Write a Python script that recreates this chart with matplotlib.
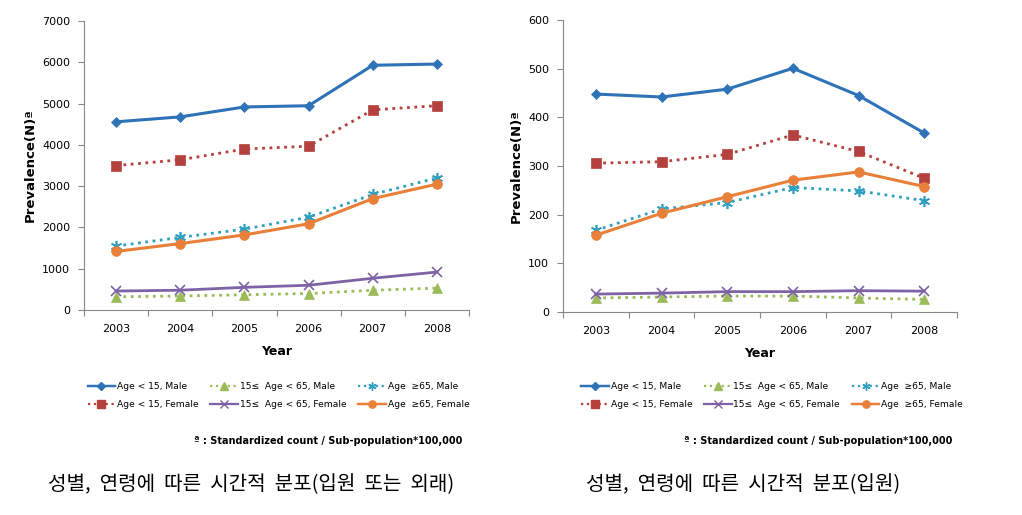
import matplotlib.pyplot as plt
from matplotlib.lines import Line2D

plt.rcParams['font.family'] = ['DejaVu Sans', 'Noto Sans CJK KR']

years = ['2003', '2004', '2005', '2006', '2007', '2008']

# left: inpatient or outpatient
left_m15 = [4560, 4680, 4920, 4950, 5930, 5960]
left_f15 = [3500, 3640, 3900, 3970, 4850, 4950]
left_m65 = [1550, 1760, 1960, 2250, 2800, 3200]
left_f65 = [1420, 1610, 1820, 2090, 2700, 3050]
left_fmid = [460, 480, 550, 600, 770, 920]
left_mmid = [320, 340, 370, 400, 480, 530]

# right: inpatient
right_m15 = [448, 442, 458, 501, 445, 368]
right_f15 = [306, 309, 324, 364, 330, 275]
right_m65 = [168, 212, 225, 256, 249, 229]
right_f65 = [158, 203, 237, 271, 288, 258]
right_fmid = [37, 39, 42, 42, 44, 43]
right_mmid = [29, 31, 33, 33, 29, 26]

labels = ['Age < 15, Male', '15\u2264  Age < 65, Male', 'Age  \u226565, Male',
          'Age < 15, Female', '15\u2264  Age < 65, Female', 'Age  \u226565, Female']

# color, linestyle, marker, markersize, linewidth
styles = [
    ('#2E72B8', '-', 'D', 5, 2.2),
    ('#9BBB59', ':', '^', 7, 2.0),
    ('#31A0C0', ':', (6, 2, 0), 8, 2.0),
    ('#B5413F', ':', 's', 7, 2.0),
    ('#7E62A6', '-', 'x', 7, 2.0),
    ('#E8803A', '-', 'o', 7, 2.2),
]

fig = plt.figure(figsize=(10.22, 5.15), dpi=100)
ax1 = fig.add_axes([0.0822, 0.398, 0.3767, 0.561])
ax2 = fig.add_axes([0.5509, 0.394, 0.3855, 0.567])

x = range(len(years))

def draw(ax, series, ymax, step):
    for i in range(6):
        c, ls, mk, ms, lw = styles[i]
        ax.plot(x, series[i], color=c, linestyle=ls, marker=mk, markersize=ms,
                linewidth=lw, markeredgewidth=1.2 if mk in ('x', (6, 2, 0)) else 0.5,
                markeredgecolor=c)
    ax.set_xlim(-0.5, 5.5)
    ax.set_ylim(0, ymax)
    ax.set_yticks(range(0, ymax + 1, step))
    ax.set_xticks([i - 0.5 for i in range(7)])
    ax.set_xticklabels([])
    ax.set_xticks(list(x), minor=True)
    ax.set_xticklabels(years, minor=True)
    ax.tick_params(axis='x', which='minor', length=0, pad=10, labelsize=8)
    ax.tick_params(axis='x', which='major', length=4, color='#888888')
    ax.tick_params(axis='y', length=4, color='#888888', labelsize=8, pad=6)
    for s in ('top', 'right'):
        ax.spines[s].set_visible(False)
    for s in ('left', 'bottom'):
        ax.spines[s].set_color('#888888')
    ax.set_ylabel('Prevalence(N)\u00aa', fontsize=9.5, fontweight='bold', labelpad=4)
    ax.set_xlabel('Year', fontsize=9, fontweight='bold', labelpad=8)

draw(ax1, [left_m15, left_mmid, left_m65, left_f15, left_fmid, left_f65], 7000, 1000)
draw(ax2, [right_m15, right_mmid, right_m65, right_f15, right_fmid, right_f65], 600, 100)

handles = []
for c, ls, mk, ms, lw in styles:
    handles.append(Line2D([], [], color=c, linestyle=ls, marker=mk,
                          markersize=ms * 0.75, linewidth=lw * 0.8, markeredgecolor=c))
# legend fills columns first, so interleave male/female
order = [0, 3, 1, 4, 2, 5]
h = [handles[i] for i in order]
lab = [labels[i] for i in order]

for cx in (0.2725, 0.7555):
    fig.legend(h, lab, loc='center', bbox_to_anchor=(cx, 0.232), ncol=3,
               frameon=False, fontsize=6.6, handlelength=3.0, columnspacing=1.3,
               handletextpad=0.2, labelspacing=1.0)

fig.text(0.452, 0.138, '\u00aa : Standardized count / Sub-population*100,000',
         ha='right', fontsize=7, fontweight='bold')
fig.text(0.932, 0.138, '\u00aa : Standardized count / Sub-population*100,000',
         ha='right', fontsize=7, fontweight='bold')

fig.text(0.047, 0.048, '성별,  연령에  따른  시간적  분포(입원  또는  외래)',
         fontsize=14.5, family=['Noto Sans CJK KR', 'DejaVu Sans'])
fig.text(0.573, 0.048, '성별,  연령에  따른  시간적  분포(입원)',
         fontsize=14.5, family=['Noto Sans CJK KR', 'DejaVu Sans'])

fig.savefig('out.png', dpi=100)
